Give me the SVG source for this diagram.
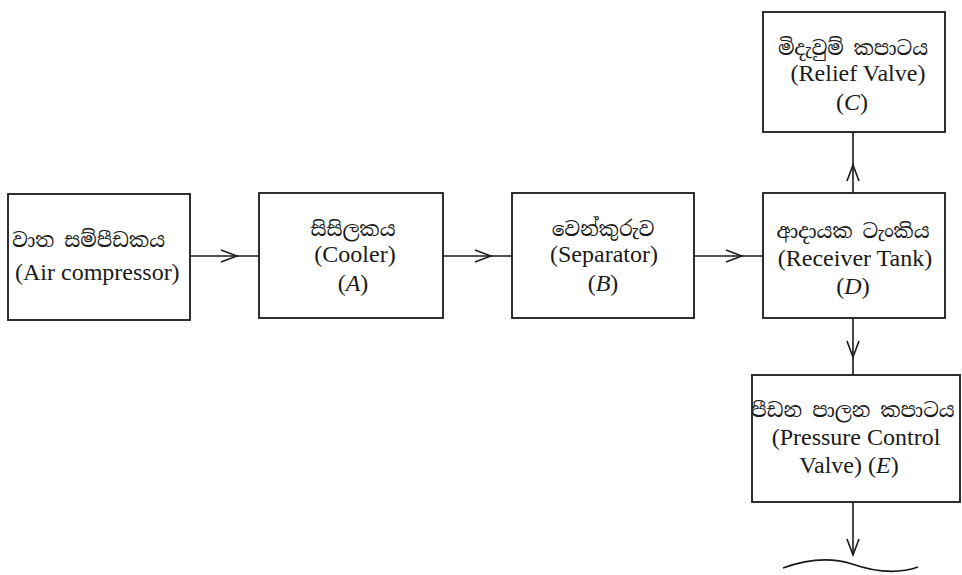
<svg xmlns="http://www.w3.org/2000/svg" width="962" height="575" viewBox="0 0 962 575">
<style>
.box{fill:#fff;stroke:#1a1a1a;stroke-width:1.8}
.t{font-family:'Liberation Serif','DejaVu Serif',serif;font-size:24px;fill:#1a1a1a}
.s{font-family:'Noto Serif Sinhala','Noto Sans Sinhala','Liberation Serif',serif;font-size:20px}
.c{text-anchor:middle}
.i{font-style:italic}
.ln{fill:none;stroke:#1a1a1a;stroke-width:1.6}
</style>
<defs>
<marker id="chev" viewBox="-18 -8 20 16" refX="0" refY="0" markerWidth="20" markerHeight="16" markerUnits="userSpaceOnUse" orient="auto">
<path d="M-16,-6 L0,0 L-16,6" fill="none" stroke="#1a1a1a" stroke-width="1.6"/>
</marker>
</defs>
<rect width="962" height="575" fill="#fff"/>
<g id="connectors">
<path class="ln" d="M190,256 L237,256 L259,256" marker-mid="url(#chev)"/>
<path class="ln" d="M443,256 L491,256 L512,256" marker-mid="url(#chev)"/>
<path class="ln" d="M694,256 L742,256 L763,256" marker-mid="url(#chev)"/>
<path class="ln" d="M853,193 L853,165 L853,132" marker-mid="url(#chev)"/>
<path class="ln" d="M853,318 L853,357 L853,375" marker-mid="url(#chev)"/>
<path class="ln" d="M853,502 L853,555" marker-end="url(#chev)"/>
<path class="ln" stroke-width="2" d="M783,568 C805,560 830,557 852,564 C875,572 898,574 918,567"/>
</g>
<g id="air-compressor">
<rect class="box" x="8" y="194" width="182" height="126"/>
<text class="t s" x="12" y="247">වාත සම්පීඩකය</text>
<text class="t" x="15" y="280" font-family="Liberation Serif">(Air compressor)</text>
</g>
<g id="cooler">
<rect class="box" x="259" y="193" width="184" height="125"/>
<text class="t s c" x="353" y="236">සිසිලකය</text>
<text class="t c" x="355" y="262">(Cooler)</text>
<text class="t c" x="353" y="291">(<tspan class="i">A</tspan>)</text>
</g>
<g id="separator">
<rect class="box" x="512" y="193" width="182" height="125"/>
<text class="t s c" x="603" y="236">වෙන්කුරුව</text>
<text class="t c" x="604" y="262">(Separator)</text>
<text class="t c" x="603" y="291">(<tspan class="i">B</tspan>)</text>
</g>
<g id="receiver-tank">
<rect class="box" x="763" y="193" width="182" height="125"/>
<text class="t s c" x="853" y="238">ආදායක ටැංකිය</text>
<text class="t c" x="855" y="266">(Receiver Tank)</text>
<text class="t c" x="853" y="294">(<tspan class="i">D</tspan>)</text>
</g>
<g id="relief-valve">
<rect class="box" x="763" y="12" width="182" height="120"/>
<text class="t s c" x="853" y="55">මිදැවුම් කපාටය</text>
<text class="t c" x="858" y="81">(Relief Valve)</text>
<text class="t c" x="852" y="110">(<tspan class="i">C</tspan>)</text>
</g>
<g id="pressure-control-valve">
<rect class="box" x="752" y="375" width="208" height="127"/>
<text class="t s c" x="853" y="417">පීඩන පාලන කපාටය</text>
<text class="t c" x="856" y="445">(Pressure Control</text>
<text class="t c" x="849" y="473">Valve) (<tspan class="i">E</tspan>)</text>
</g>
</svg>
